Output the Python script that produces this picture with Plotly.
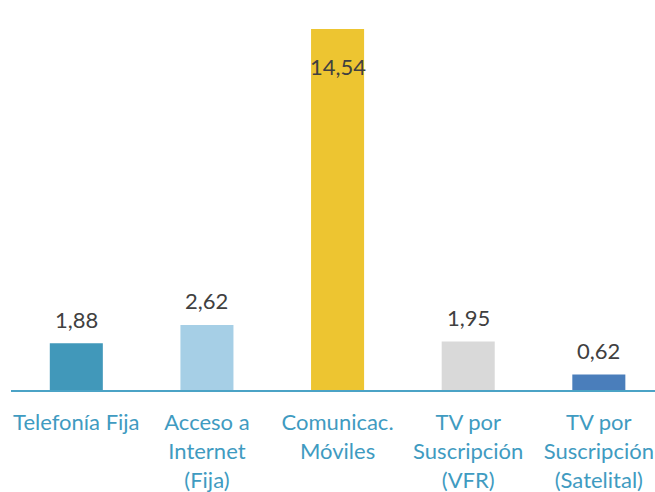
import plotly.graph_objects as go

categories = ["Telefonía Fija", "Acceso a<br>Internet<br>(Fija)", "Comunicac.<br>Móviles",
              "TV por<br>Suscripción<br>(VFR)", "TV por<br>Suscripción<br>(Satelital)"]
values = [1.88, 2.62, 14.54, 1.95, 0.62]
colors = ["#4198BA", "#A6CFE6", "#EDC531", "#D9D9D9", "#4A7EBB"]

fig = go.Figure()
fig.add_trace(go.Bar(x=categories, y=values, marker=dict(color=colors, line=dict(width=0)),
                     width=0.406, hoverinfo="skip"))

for c, v in zip(categories, values):
    inside = v > 10
    fig.add_annotation(x=c, y=v, text=f"{v:.2f}".replace(".", ","), showarrow=False,
                       yshift=-37 if inside else 24,
                       font=dict(family="Lato", size=22, color="#404040"))

fig.update_layout(
    width=655, height=492,
    margin=dict(l=11, r=0, t=0, b=102),
    paper_bgcolor="white", plot_bgcolor="white",
    showlegend=False,
    font=dict(family="Lato", size=22, color="#3F9BC1"),
    bargap=0.6,
)
fig.update_xaxes(range=[-0.5, 4.43], showline=True, linecolor="#4BA3C6", linewidth=2,
                 automargin=False,
                 ticks="outside", ticklen=12, tickcolor="rgba(0,0,0,0)",
                 tickfont=dict(family="Lato", size=22, color="#3F9BC1"), showgrid=False)
fig.update_yaxes(range=[0, 15.71], visible=False, showgrid=False, zeroline=False,
                 automargin=False)

# remove the default 8px page margin so the figure fills the window exactly
fig.write_html("out.html", config={"displayModeBar": False},
               post_script="document.body.style.margin='0';")
